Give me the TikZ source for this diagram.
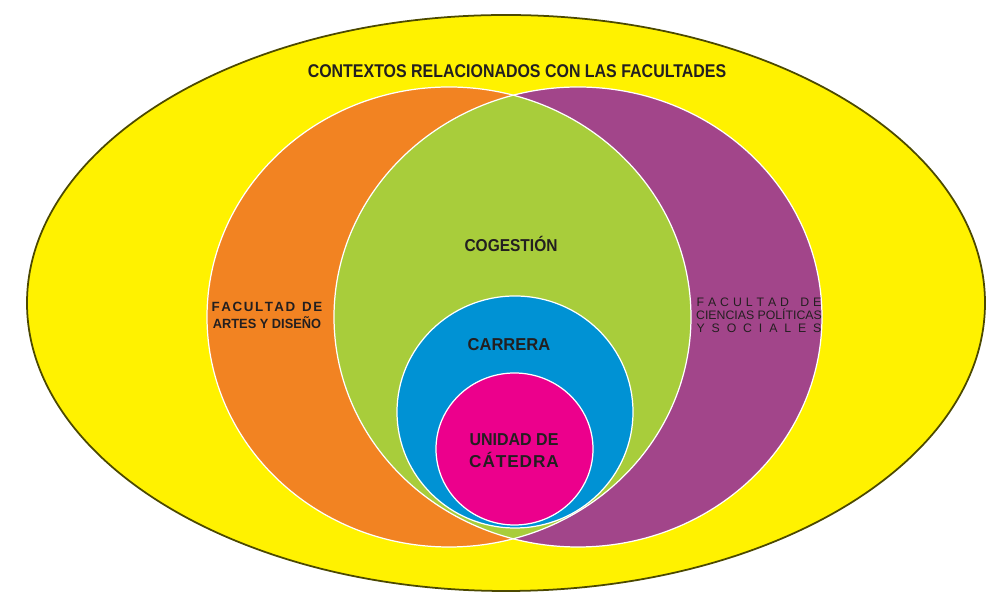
\documentclass[tikz,border=0pt]{standalone}
\usepackage{fontspec}
\setmainfont{Liberation Sans}
\definecolor{amarillo}{HTML}{FFF200}
\definecolor{naranja}{HTML}{F28322}
\definecolor{morado}{HTML}{A2458A}
\definecolor{verde}{HTML}{A8CD3B}
\definecolor{azul}{HTML}{0092D4}
\definecolor{fucsia}{HTML}{EC008C}
\definecolor{tinta}{HTML}{231F20}
\newcommand{\espaciado}[2]{\makebox[#1][s]{#2}}
\begin{document}
\begin{tikzpicture}[x=0.02cm,y=0.02cm,
    borde/.style={draw=white,line width=0.7pt},
    rotulo/.style={text=tinta,font=\bfseries,align=center,inner sep=0pt}]
        \useasboundingbox[fill=white] (0,0) rectangle (995,608);
        % contexto general
        \filldraw[fill=amarillo,draw=black!70!amarillo,line width=1pt] (506,305) ellipse [x radius=479,y radius=288];
        % facultades
        \fill[naranja] (449,291) ellipse [x radius=242,y radius=230];
        \fill[morado] (578,291) ellipse [x radius=244,y radius=230];
        \begin{scope}
            \clip (449,291) ellipse [x radius=242,y radius=230];
            \fill[verde] (578,291) ellipse [x radius=244,y radius=230];
        \end{scope}
        \draw[borde] (449,291) ellipse [x radius=242,y radius=230];
        \draw[borde] (578,291) ellipse [x radius=244,y radius=230];
        % carrera y unidad
        \filldraw[fill=azul,borde] (515,196) ellipse [x radius=118,y radius=116];
        \filldraw[fill=fucsia,borde] (514.5,159) ellipse [x radius=78.5,y radius=76];
        % textos
        \node[rotulo,font=\bfseries\fontsize{10.5}{12}\selectfont] (titulo) at (517,537)
            {\scalebox{0.865}[1]{CONTEXTOS RELACIONADOS CON LAS FACULTADES}};
        \node[rotulo,font=\bfseries\fontsize{9.8}{11}\selectfont] (cogestion) at (511,364)
            {\scalebox{0.9}[1]{COGESTIÓN}};
        \node[rotulo,font=\bfseries\fontsize{9.8}{11}\selectfont] (carrera) at (509,263)
            {\scalebox{0.96}[1]{CARRERA}};
        \node[rotulo,font=\bfseries\fontsize{9.8}{12.5}\selectfont] (unidad) at (514,157)
            {\scalebox{0.93}[1]{UNIDAD DE}\\\espaciado{51pt}{C\hfil Á\hfil T\hfil E\hfil D\hfil R\hfil A}};
        \node[rotulo,font=\bfseries\fontsize{7.6}{9.7}\selectfont] (artes) at (267,293)
            {\espaciado{63pt}{F\hfil A\hfil C\hfil U\hfil L\hfil T\hfil A\hfil D\hfil\ \hfil D\hfil E}\\
             \scalebox{0.96}[1]{ARTES Y DISEÑO}};
        \node[rotulo,font=\fontsize{7}{7.5}\selectfont] (ciencias) at (759,293)
            {\espaciado{71pt}{F\hfil A\hfil C\hfil U\hfil L\hfil T\hfil A\hfil D\hfil\ \hfil D\hfil E}\\
             CIENCIAS POLÍTICAS\\
             \espaciado{71pt}{Y\hfil S\hfil O\hfil C\hfil I\hfil A\hfil L\hfil E\hfil S}};
\end{tikzpicture}
\end{document}
